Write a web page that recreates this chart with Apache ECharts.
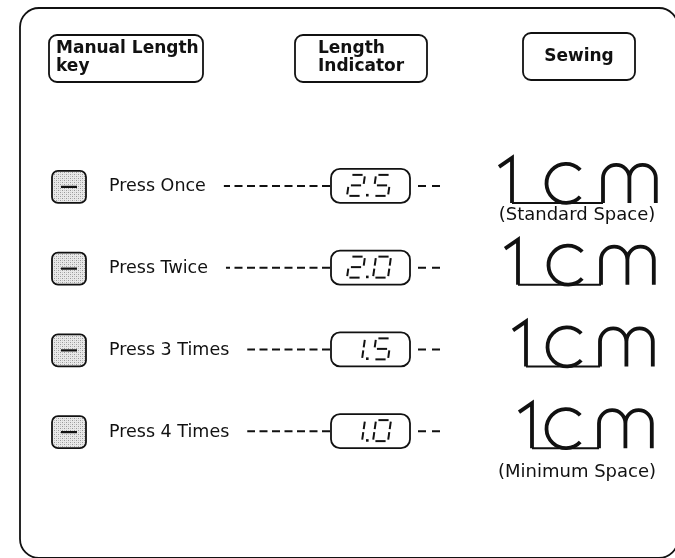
<!DOCTYPE html>
<html><head><meta charset="utf-8">
<script src="https://cdn.jsdelivr.net/npm/echarts@6/dist/echarts.min.js"></script>
<style>html,body{margin:0;padding:0;background:#fff}#c{width:675px;height:558px}</style>
</head><body><div id="c"></div>
<script>
// ---- data ----
const headers = [['Manual Length', 'key'], ['Length', 'Indicator'], ['Sewing']];
const presses = ['Press Once', 'Press Twice', 'Press 3 Times', 'Press 4 Times'];
const lengths = ['2.5', '2.0', '1.5', '1.0'];
const notes = ['(Standard Space)', '', '', '(Minimum Space)'];

// ---- layout (not data) ----
const L = {
  oneX: [512, 518, 526, 532],
  cCx: [566, 568, 567, 566],
  mX: [603, 601, 600, 599],
  noteDy: [12, 0, 0, 24]
};
const INK = '#111';
const LABEL_FONT = '17.5px "DejaVu Sans"';
const NOTE_FONT = '18px "DejaVu Sans"';
const HEAD_FONT = 'bold 17px "DejaVu Sans"';

const mctx = document.createElement('canvas').getContext('2d');
function textW(t, font) { mctx.font = font; return mctx.measureText(t).width; }

// stipple pattern for the key buttons
const pc = document.createElement('canvas');
pc.width = 4; pc.height = 4;
const pctx = pc.getContext('2d');
pctx.fillStyle = '#e9e9e9'; pctx.fillRect(0, 0, 4, 4);
pctx.fillStyle = '#999'; pctx.fillRect(0, 0, 1, 1); pctx.fillRect(2, 2, 1, 1);
pctx.fillStyle = '#c4c4c4'; pctx.fillRect(2, 0, 1, 1); pctx.fillRect(0, 2, 1, 1);

const SEG = { '0': 'abcdef', '1': 'bc', '2': 'abged', '3': 'abgcd', '4': 'fgbc', '5': 'afgcd', '6': 'afgedc', '7': 'abc', '8': 'abcdefg', '9': 'abcdfg' };
function digitLines(ch, x0, yTop, w, h, s) {
  const P = (u, v) => [x0 + u * w + (1 - v) * s, yTop + v * h];
  const g = 0.16, gv = 0.07;
  const seg = {
    a: [P(g, 0), P(1 - g, 0)],
    b: [P(1, gv), P(1, 0.5 - gv)],
    c: [P(1, 0.5 + gv), P(1, 1 - gv)],
    d: [P(g, 1), P(1 - g, 1)],
    e: [P(0, 0.5 + gv), P(0, 1 - gv)],
    f: [P(0, gv), P(0, 0.5 - gv)],
    g: [P(g, 0.5), P(1 - g, 0.5)]
  };
  return (SEG[ch] || '').split('').map(k => ({
    type: 'line',
    shape: { x1: seg[k][0][0], y1: seg[k][0][1], x2: seg[k][1][0], y2: seg[k][1][1] },
    style: { stroke: INK, lineWidth: 2, lineCap: 'butt' }
  }));
}

function renderRow(params, api) {
  const i = params.dataIndex;
  const cy = api.coord([0, presses[i]])[1];
  const ch = [];
  // key button
  ch.push({ type: 'rect', shape: { x: 52, y: cy - 15, width: 34, height: 32, r: 6 },
    style: { fill: { image: pc, repeat: 'repeat' }, stroke: INK, lineWidth: 1.8 } });
  ch.push({ type: 'line', shape: { x1: 61, y1: cy + 1, x2: 77, y2: cy + 1 }, style: { stroke: INK, lineWidth: 2.2 } });
  // label
  ch.push({ type: 'text', x: 109, y: cy + 1, style: { text: presses[i], font: LABEL_FONT, fill: INK,
    align: 'left', verticalAlign: 'middle', textAlign: 'left', textVerticalAlign: 'middle' } });
  const lEnd = 109 + textW(presses[i], LABEL_FONT);
  // dashed leader to the indicator
  ch.push({ type: 'line', shape: { x1: 330, y1: cy, x2: lEnd + 18, y2: cy },
    style: { stroke: INK, lineWidth: 2, lineDash: [8, 4.5] } });
  // indicator box
  ch.push({ type: 'rect', shape: { x: 331, y: cy - 17, width: 79, height: 34, r: 9 },
    style: { fill: 'none', stroke: INK, lineWidth: 1.8 } });
  // seven-seg digits
  const txt = lengths[i];
  const slots = [347, 367, 373];
  for (let k = 0; k < txt.length; k++) {
    const c = txt[k];
    if (c === '.') {
      ch.push({ type: 'rect', shape: { x: slots[k] - 1, y: cy + 8, width: 2.6, height: 2.6 }, style: { fill: INK } });
    } else {
      digitLines(c, slots[k], cy - 11, 15, 21, 3).forEach(e => ch.push(e));
    }
  }
  // trailing dashes
  ch.push({ type: 'line', shape: { x1: 418, y1: cy, x2: 442, y2: cy },
    style: { stroke: INK, lineWidth: 2, lineDash: [8, 6] } });
  // "1cm" sewing sample
  const base = cy + 17;
  const sx = L.oneX[i], cx = L.cCx[i], mx = L.mX[i];
  const lw = 3.8;
  ch.push({ type: 'polyline', shape: { points: [[sx - 13, base - 36], [sx, base - 45], [sx, base]] },
    style: { fill: 'none', stroke: INK, lineWidth: lw, lineJoin: 'miter' } });
  ch.push({ type: 'line', shape: { x1: sx, y1: base, x2: mx, y2: base }, style: { stroke: INK, lineWidth: 2 } });
  ch.push({ type: 'arc', shape: { cx: cx, cy: base - 19.5, r: 19.5, startAngle: Math.PI * 0.24, endAngle: Math.PI * 1.76, clockwise: true },
    style: { fill: 'none', stroke: INK, lineWidth: lw } });
  const r = 13.2, t = base - 38;
  const pd = `M ${mx} ${base} L ${mx} ${t + r} A ${r} ${r} 0 0 1 ${mx + 2 * r} ${t + r} L ${mx + 2 * r} ${base} ` +
             `M ${mx + 2 * r} ${t + r} A ${r} ${r} 0 0 1 ${mx + 4 * r} ${t + r} L ${mx + 4 * r} ${base}`;
  ch.push({ type: 'path', shape: { pathData: pd }, style: { fill: 'none', stroke: INK, lineWidth: lw } });
  if (notes[i]) {
    ch.push({ type: 'text', x: 577, y: base + L.noteDy[i], style: { text: notes[i], font: NOTE_FONT, fill: INK,
      align: 'center', verticalAlign: 'middle', textAlign: 'center', textVerticalAlign: 'middle' } });
  }
  return { type: 'group', children: ch };
}

// header graphics
const headBoxes = [
  { x: 49, y: 35, w: 154, h: 47, tx: 56, align: 'left' },
  { x: 295, y: 35, w: 132, h: 47, tx: 318, align: 'left' },
  { x: 523, y: 33, w: 112, h: 47, tx: 579, align: 'center' }
];
const graphics = [{
  type: 'rect', shape: { x: 20, y: 8, width: 658, height: 550, r: 19 },
  style: { fill: 'none', stroke: INK, lineWidth: 1.8 }, z: 0
}];
headers.forEach((lines, k) => {
  const b = headBoxes[k];
  graphics.push({ type: 'rect', shape: { x: b.x, y: b.y, width: b.w, height: b.h, r: 8 },
    style: { fill: 'none', stroke: INK, lineWidth: 1.8 } });
  const mid = b.y + b.h / 2;
  lines.forEach((ln, j) => {
    const y = lines.length === 1 ? mid : mid + (j === 0 ? -9.5 : 8.5);
    graphics.push({ type: 'text', x: b.tx, y: y, style: { text: ln, font: HEAD_FONT, fill: INK,
      align: b.align, verticalAlign: 'middle', textAlign: b.align, textVerticalAlign: 'middle' } });
  });
});

const chart = echarts.init(document.getElementById('c'));
chart.setOption({
  animation: false,
  backgroundColor: '#fff',
  grid: { left: 0, right: 0, top: 145, bottom: 86 },
  xAxis: { type: 'value', min: 0, max: 675, show: false },
  yAxis: { type: 'category', data: presses, inverse: true, show: false },
  graphic: graphics,
  series: [{
    type: 'custom',
    renderItem: renderRow,
    data: presses.map(p => [0, p]),
    clip: false
  }]
});
</script></body></html>
